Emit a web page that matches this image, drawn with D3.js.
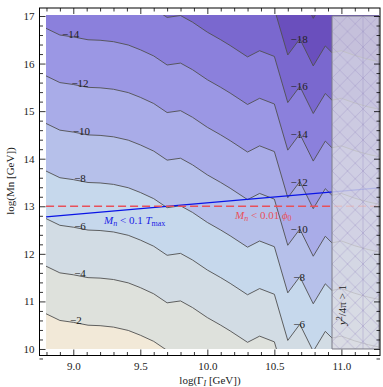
<!DOCTYPE html>
<html>
<head>
<meta charset="utf-8">
<script src="https://cdn.jsdelivr.net/npm/d3@7"></script>
<style>
  body { margin: 0; background: #fff; }
  svg { display: block; }
  text { font-family: "Liberation Serif", "Times New Roman", serif; }
</style>
</head>
<body>
<svg id="chart" width="383" height="387"></svg>
<script>
// log(Gamma_I) sample points shared by all contour lines
const gammaGrid = [8.79, 8.90, 9.00, 9.11, 9.20, 9.30, 9.41, 9.50, 9.60, 9.70, 9.80, 9.89, 10.00, 10.10, 10.17,
  10.30, 10.39, 10.50, 10.60, 10.69, 10.79, 10.88, 10.93, 11.00, 11.10, 11.20, 11.30];

// log(Mn) of each contour line
const mnLevel2 = [10.75, 10.60, 10.56, 10.50, 10.49, 10.46, 10.39, 10.29, 10.16, 9.97, 9.98, 9.87, 9.66, 9.50, 9.38,
  9.14, 9.27, 9.15, 8.18, 8.52, 7.95, 8.37, 8.23, 8.27, 8.17, 8.09, 8.03];
const mnLevel4 = [11.75, 11.60, 11.56, 11.50, 11.49, 11.46, 11.39, 11.29, 11.16, 10.97, 11.01, 10.87, 10.66, 10.50, 10.38,
  10.14, 10.27, 10.15, 9.18, 9.52, 8.95, 9.37, 9.23, 9.27, 9.17, 9.09, 9.03];
const mnLevel6 = [12.75, 12.60, 12.56, 12.50, 12.49, 12.46, 12.39, 12.29, 12.16, 11.97, 12.01, 11.87, 11.66, 11.50, 11.38,
  11.14, 11.27, 11.15, 10.18, 10.52, 9.95, 10.37, 10.23, 10.27, 10.17, 10.09, 10.03];
const mnLevel8 = [13.75, 13.60, 13.56, 13.50, 13.49, 13.46, 13.39, 13.29, 13.16, 12.97, 13.01, 12.87, 12.66, 12.50, 12.38,
  12.14, 12.27, 12.15, 11.18, 11.52, 10.95, 11.37, 11.23, 11.27, 11.17, 11.09, 11.03];
const mnLevel10 = [14.75, 14.60, 14.56, 14.50, 14.49, 14.46, 14.39, 14.29, 14.16, 13.97, 14.01, 13.87, 13.66, 13.50, 13.38,
  13.14, 13.27, 13.15, 12.18, 12.52, 11.95, 12.37, 12.23, 12.27, 12.17, 12.09, 12.03];
const mnLevel12 = [15.75, 15.60, 15.56, 15.50, 15.49, 15.46, 15.39, 15.29, 15.16, 14.97, 15.01, 14.87, 14.66, 14.50, 14.38,
  14.14, 14.27, 14.15, 13.18, 13.52, 12.95, 13.37, 13.23, 13.27, 13.17, 13.09, 13.03];
const mnLevel14 = [16.75, 16.60, 16.56, 16.50, 16.49, 16.46, 16.39, 16.29, 16.16, 15.97, 16.01, 15.87, 15.66, 15.50, 15.38,
  15.14, 15.27, 15.15, 14.18, 14.52, 13.95, 14.37, 14.23, 14.27, 14.17, 14.09, 14.03];
const mnLevel16 = [17.75, 17.60, 17.56, 17.50, 17.49, 17.46, 17.39, 17.29, 17.16, 16.97, 17.01, 16.87, 16.66, 16.50, 16.38,
  16.14, 16.27, 16.15, 15.18, 15.52, 14.95, 15.37, 15.23, 15.27, 15.17, 15.09, 15.03];
const mnLevel18 = [18.75, 18.60, 18.56, 18.50, 18.49, 18.46, 18.39, 18.29, 18.16, 17.97, 18.01, 17.87, 17.66, 17.50, 17.38,
  17.14, 17.27, 17.15, 16.18, 16.52, 15.95, 16.37, 16.23, 16.27, 16.17, 16.09, 16.03];
const mnLevel20 = [19.75, 19.60, 19.56, 19.50, 19.49, 19.46, 19.39, 19.29, 19.16, 18.97, 19.01, 18.87, 18.66, 18.50, 18.38,
  18.14, 18.27, 18.15, 17.18, 17.52, 16.95, 17.37, 17.23, 17.27, 17.17, 17.09, 17.03];

const levels = [-2, -4, -6, -8, -10, -12, -14, -16, -18, -20];
const contourLines = [mnLevel2, mnLevel4, mnLevel6, mnLevel8, mnLevel10, mnLevel12, mnLevel14, mnLevel16, mnLevel18, mnLevel20];

// fill of the band above each contour (values below that level)
const baseColor = '#f2e9d8';
const bandColors = ['#dee1dc', '#d2dce4', '#c6d8ec', '#b6c0ea', '#a9ace8', '#9b97e4', '#8b80dc', '#7a68cf', '#6a4fbd', '#5d3bac'];

// labels: which contours get a label on the left, and on the right peak
const leftLabelLevels = [-2, -4, -6, -8, -10, -12, -14];
const rightLabelLevels = [-6, -8, -10, -12, -14, -16, -18];

// the two bounds
const blueGamma = [8.797, 11.281];
const blueMn = [12.775, 13.387];
const redMn = 13;

// perturbative limit region
const hatchGamma = [10.93, 11.281];

const xMajorTicks = [9.0, 9.5, 10.0, 10.5, 11.0];
const yMajorTicks = [10, 11, 12, 13, 14, 15, 16, 17];

const dataGamma = [8.797, 11.281];
const dataMn = [10, 17];

const svg = d3.select('#chart');
const frame = { left: 39.5, right: 380, top: 8, bottom: 355.5 };

const x = d3.scaleLinear().domain([8.748, 11.288]).range([frame.left, frame.right]);
const y = d3.scaleLinear().domain([9.863, 17.168]).range([frame.bottom, frame.top]);

const defs = svg.append('defs');
defs.append('clipPath').attr('id', 'plotClip')
  .append('rect')
  .attr('x', x(dataGamma[0])).attr('y', y(dataMn[1]) - 1)
  .attr('width', x(dataGamma[1]) - x(dataGamma[0]))
  .attr('height', y(dataMn[0]) - y(dataMn[1]) + 1);

const hatch = defs.append('pattern').attr('id', 'hatch')
  .attr('patternUnits', 'userSpaceOnUse')
  .attr('x', x(hatchGamma[0])).attr('y', y(dataMn[1]))
  .attr('width', 15.5).attr('height', 15.5);
hatch.append('path').attr('d', 'M0,0L15.5,15.5M0,15.5L15.5,0')
  .attr('stroke', '#9d92c6').attr('stroke-width', 0.6).attr('stroke-opacity', 0.7);

const plot = svg.append('g').attr('clip-path', 'url(#plotClip)');

// bands
plot.append('rect')
  .attr('x', x(dataGamma[0])).attr('y', y(dataMn[1]) - 1)
  .attr('width', x(dataGamma[1]) - x(dataGamma[0]))
  .attr('height', y(dataMn[0]) - y(dataMn[1]) + 1)
  .attr('fill', baseColor);

const area = d3.area()
  .x((d, i) => x(gammaGrid[i]))
  .y0(y(17.2))
  .y1(d => y(d));

contourLines.forEach((line, i) => {
  plot.append('path').attr('d', area(line)).attr('fill', bandColors[i]);
});

// contour lines
const lineGen = d3.line()
  .x((d, i) => x(gammaGrid[i]))
  .y(d => y(d));

contourLines.forEach(line => {
  plot.append('path').attr('d', lineGen(line))
    .attr('fill', 'none').attr('stroke', '#505050').attr('stroke-width', 0.9);
});

// contour labels
const fmt = v => '\u2212' + Math.abs(v);
function mnAt(line, g) {
  const i = d3.bisectLeft(gammaGrid, g);
  if (gammaGrid[i] === g) return line[i];
  const t = (g - gammaGrid[i - 1]) / (gammaGrid[i] - gammaGrid[i - 1]);
  return line[i - 1] + t * (line[i] - line[i - 1]);
}
const leftLabelGamma = { '-2': 9.02, '-4': 9.05, '-6': 9.05, '-8': 9.05, '-10': 9.06, '-12': 9.05, '-14': 8.98 };
leftLabelLevels.forEach(lv => {
  const line = contourLines[levels.indexOf(lv)];
  const g = leftLabelGamma[lv];
  plot.append('text')
    .attr('x', x(g)).attr('y', y(mnAt(line, g)) + 1)
    .attr('text-anchor', 'middle').attr('font-size', 11).attr('fill', '#222')
    .text(fmt(lv));
});
rightLabelLevels.forEach(lv => {
  const line = contourLines[levels.indexOf(lv)];
  plot.append('text')
    .attr('x', x(10.685)).attr('y', y(mnAt(line, 10.69)) + 4)
    .attr('text-anchor', 'middle').attr('font-size', 11).attr('fill', '#222')
    .text(fmt(lv));
});

// blue and red bounds
plot.append('line')
  .attr('x1', x(blueGamma[0])).attr('y1', y(blueMn[0]))
  .attr('x2', x(blueGamma[1])).attr('y2', y(blueMn[1]))
  .attr('stroke', '#0a14e6').attr('stroke-width', 1.3);
plot.append('line')
  .attr('x1', x(dataGamma[0])).attr('y1', y(redMn))
  .attr('x2', x(dataGamma[1])).attr('y2', y(redMn))
  .attr('stroke', '#e8505a').attr('stroke-width', 1.5).attr('stroke-dasharray', '8,4');

const blueText = plot.append('text').attr('x', 104).attr('y', 224)
  .attr('font-size', 11).attr('fill', '#1a22e6');
blueText.append('tspan').attr('font-style', 'italic').text('M');
blueText.append('tspan').attr('font-style', 'italic').attr('font-size', 8).attr('dy', 2).text('n');
blueText.append('tspan').attr('dy', -2).text(' < 0.1 ');
blueText.append('tspan').attr('font-style', 'italic').text('T');
blueText.append('tspan').attr('font-size', 8).attr('dy', 2).text('max');

const redText = plot.append('text').attr('x', 235).attr('y', 219)
  .attr('font-size', 11).attr('fill', '#e8505a');
redText.append('tspan').attr('font-style', 'italic').text('M');
redText.append('tspan').attr('font-style', 'italic').attr('font-size', 8).attr('dy', 2).text('n');
redText.append('tspan').attr('dy', -2).text(' < 0.01 ');
redText.append('tspan').attr('font-style', 'italic').text('\u03d5');
redText.append('tspan').attr('font-size', 8).attr('dy', 2).text('0');

// hatched region
const hx0 = x(hatchGamma[0]), hx1 = x(hatchGamma[1]);
const hy0 = y(dataMn[1]), hy1 = y(dataMn[0]);
plot.append('rect')
  .attr('x', hx0).attr('y', hy0).attr('width', hx1 - hx0).attr('height', hy1 - hy0)
  .attr('fill', '#dcdce2').attr('fill-opacity', 0.8);
plot.append('rect')
  .attr('x', hx0).attr('y', hy0).attr('width', hx1 - hx0).attr('height', hy1 - hy0)
  .attr('fill', 'url(#hatch)');
plot.append('line')
  .attr('x1', hx0 + 31).attr('x2', hx0 + 31).attr('y1', hy0).attr('y2', hy1)
  .attr('stroke', '#9d92c6').attr('stroke-width', 0.6).attr('stroke-opacity', 0.7);
svg.append('path')
  .attr('d', `M${hx1},${hy0}H${hx0}V${hy1}H${hx1}V${hy0}`)
  .attr('fill', 'none').attr('stroke', '#7a7a86').attr('stroke-width', 1);

const hatchText = svg.append('text')
  .attr('transform', `translate(${hx0 + 14},${305}) rotate(-90)`)
  .attr('text-anchor', 'middle').attr('font-size', 11).attr('fill', '#222');
hatchText.append('tspan').attr('font-style', 'italic').text('y');
hatchText.append('tspan').attr('font-size', 8).attr('dy', -4).text('2');
hatchText.append('tspan').attr('dy', 4).text('/4\u03c0 > 1');

// frame and ticks
svg.append('rect')
  .attr('x', frame.left).attr('y', frame.top)
  .attr('width', frame.right - frame.left).attr('height', frame.bottom - frame.top)
  .attr('fill', 'none').attr('stroke', '#000').attr('stroke-width', 1);

const xMinor = d3.range(8.8, 11.29, 0.1).filter(v => !xMajorTicks.some(m => Math.abs(m - v) < 1e-6));
const yMinor = d3.range(9.8, 17.1, 0.2).filter(v => !yMajorTicks.some(m => Math.abs(m - v) < 1e-6));

function styleAxis(g) {
  g.select('.domain').remove();
  g.attr('font-family', '"Liberation Serif", "Times New Roman", serif').attr('font-size', 11);
  g.selectAll('line').attr('stroke', '#000').attr('stroke-width', 0.8);
  g.selectAll('text').attr('fill', '#222');
}

svg.append('g').attr('transform', `translate(0,${frame.bottom})`)
  .call(d3.axisBottom(x).tickValues(xMajorTicks).tickSize(-6).tickPadding(7).tickFormat(d3.format('.1f')))
  .call(styleAxis);
svg.append('g').attr('transform', `translate(0,${frame.bottom})`)
  .call(d3.axisBottom(x).tickValues(xMinor).tickSize(-3.5).tickFormat(''))
  .call(styleAxis);
svg.append('g').attr('transform', `translate(0,${frame.top})`)
  .call(d3.axisTop(x).tickValues(xMajorTicks).tickSize(-6).tickFormat(''))
  .call(styleAxis);
svg.append('g').attr('transform', `translate(0,${frame.top})`)
  .call(d3.axisTop(x).tickValues(xMinor).tickSize(-3.5).tickFormat(''))
  .call(styleAxis);

svg.append('g').attr('transform', `translate(${frame.left},0)`)
  .call(d3.axisLeft(y).tickValues(yMajorTicks).tickSize(-6).tickPadding(5).tickFormat(d3.format('d')))
  .call(styleAxis);
svg.append('g').attr('transform', `translate(${frame.left},0)`)
  .call(d3.axisLeft(y).tickValues(yMinor).tickSize(-3.5).tickFormat(''))
  .call(styleAxis);
svg.append('g').attr('transform', `translate(${frame.right},0)`)
  .call(d3.axisRight(y).tickValues(yMajorTicks).tickSize(-6).tickFormat(''))
  .call(styleAxis);
svg.append('g').attr('transform', `translate(${frame.right},0)`)
  .call(d3.axisRight(y).tickValues(yMinor).tickSize(-3.5).tickFormat(''))
  .call(styleAxis);

// axis titles
const xTitle = svg.append('text').attr('x', 210).attr('y', 384)
  .attr('text-anchor', 'middle').attr('font-size', 11).attr('fill', '#222');
xTitle.append('tspan').text('log(\u0393');
xTitle.append('tspan').attr('font-size', 8).attr('font-style', 'italic').attr('dy', 2).text('I');
xTitle.append('tspan').attr('dy', -2).text(' [GeV])');

svg.append('text')
  .attr('transform', 'translate(14,181) rotate(-90)')
  .attr('text-anchor', 'middle').attr('font-size', 11).attr('fill', '#222')
  .text('log(Mn [GeV])');
</script>
</body>
</html>
